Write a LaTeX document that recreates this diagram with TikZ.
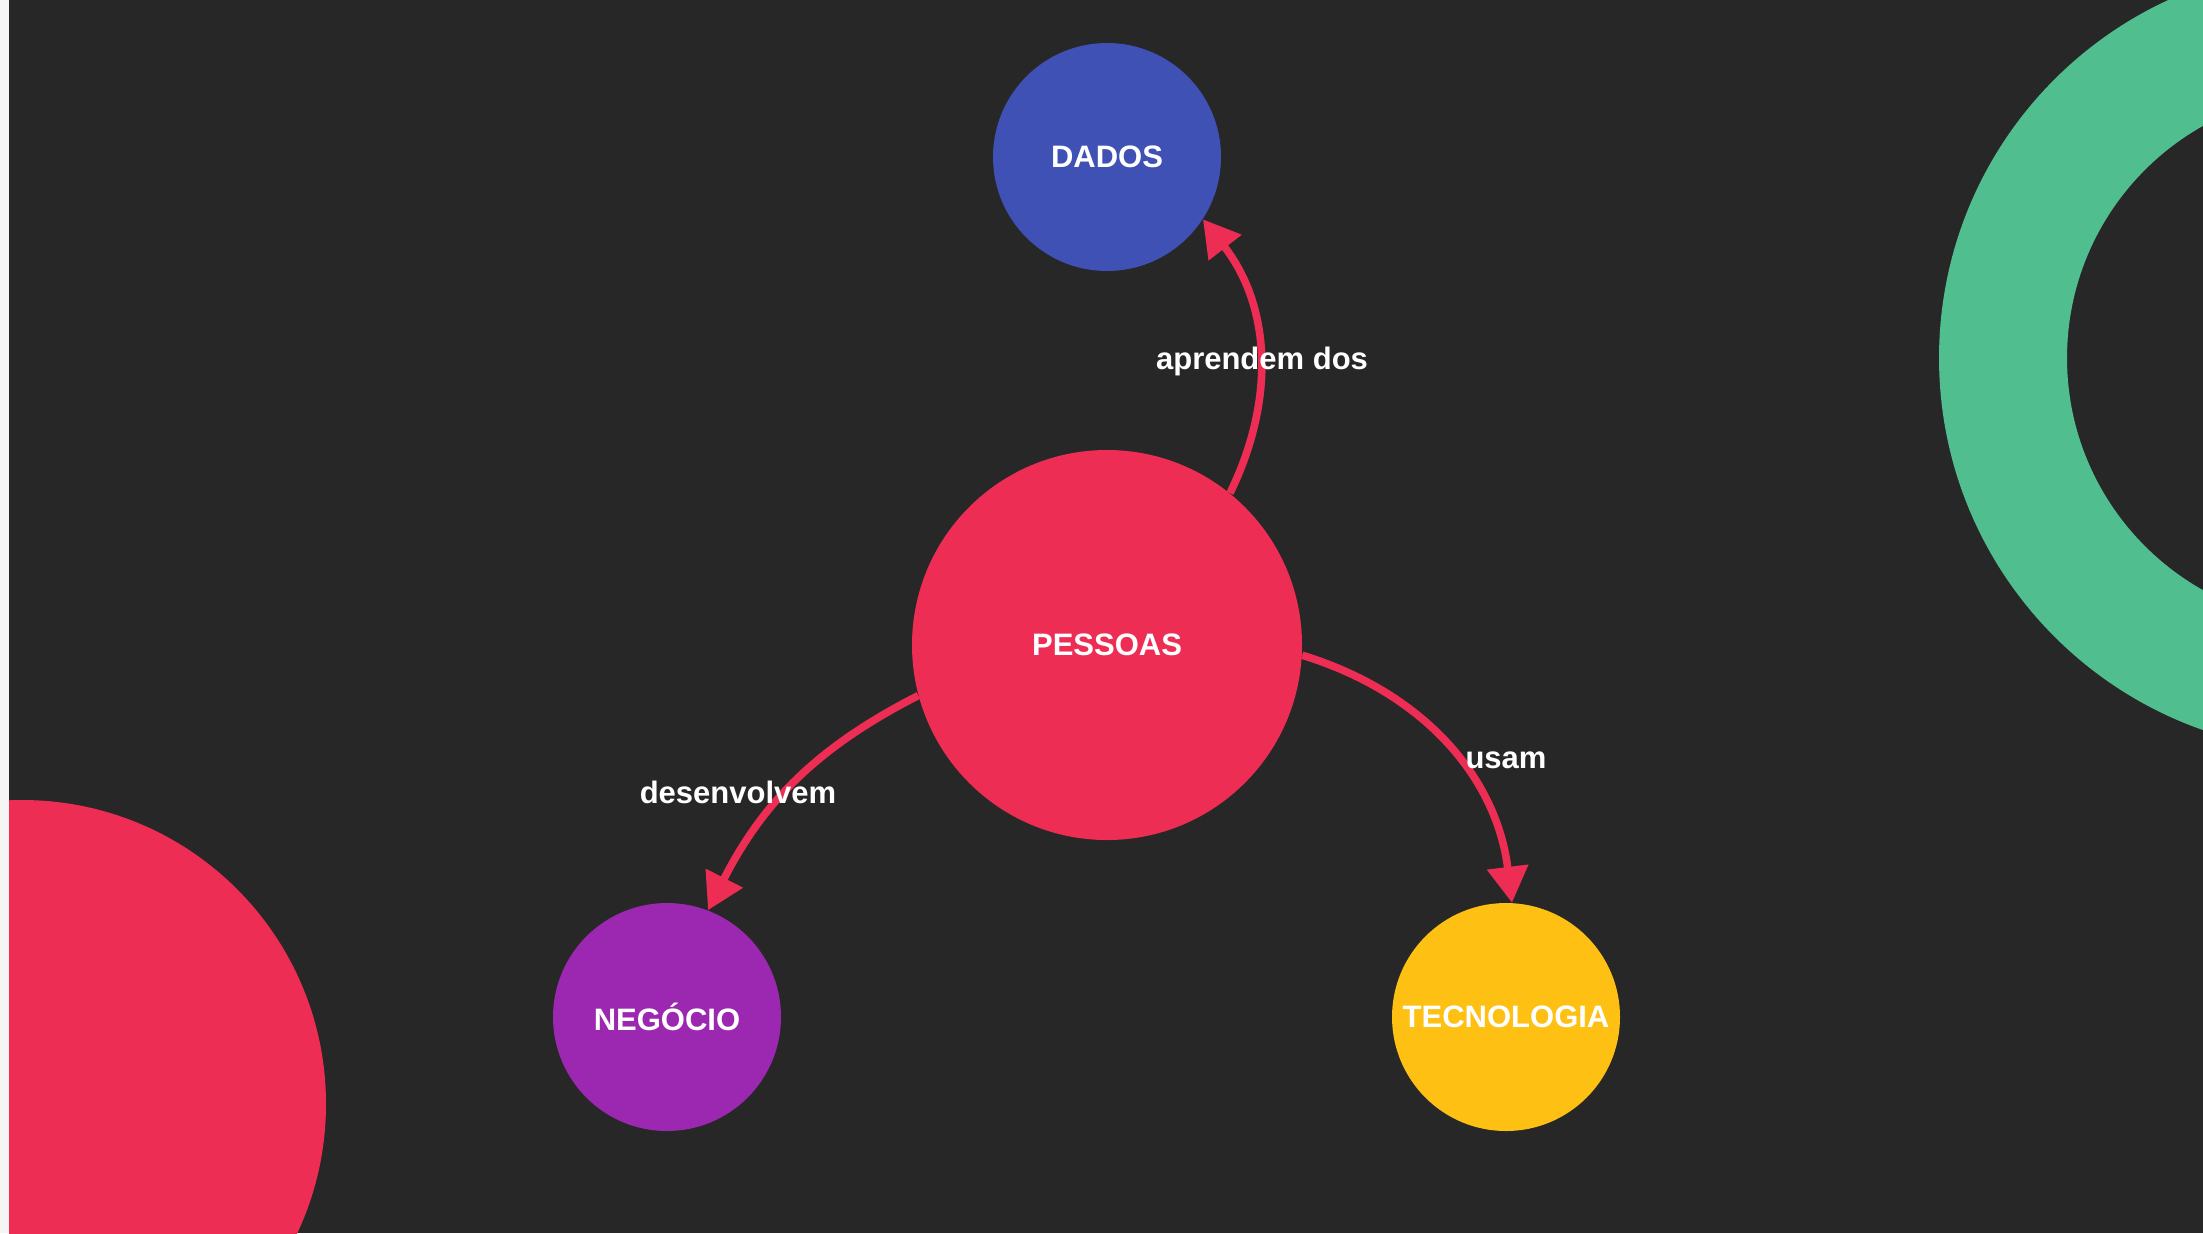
\documentclass[tikz,border=0pt]{standalone}
\usepackage{fontspec}
\setmainfont{Liberation Sans}
\usetikzlibrary{arrows.meta}

\definecolor{fundo}{HTML}{272727}
\definecolor{margem}{HTML}{F5F5F5}
\definecolor{vermelho}{HTML}{EE2D55}
\definecolor{azul}{HTML}{3F51B5}
\definecolor{roxo}{HTML}{9C27B0}
\definecolor{amarelo}{HTML}{FDC013}
\definecolor{verde}{HTML}{51BE8F}

\begin{document}
\begin{tikzpicture}[x=0.5pt,y=0.5pt,
		conceito/.style={circle,inner sep=0pt,minimum size=#1,text=white,
			font=\bfseries\fontsize{15.5}{18}\selectfont},
		seta/.style={-{Triangle[length=18pt,width=20pt]},line width=3.8pt,draw=vermelho},
		rotulo/.style={inner sep=0pt,text=white,font=\bfseries\fontsize{15.5}{18}\selectfont}]
		\useasboundingbox (0,0) rectangle (2203,-1233);
		\fill[margem] (0,0) rectangle (9,-1233);
		\fill[fundo] (9,0) rectangle (2203,-1233);
		\begin{scope}
			\clip (9,0) rectangle (2203,-1233);
			\fill[vermelho] (22,-1104) circle[radius=304];
			\fill[verde,even odd rule] (2333,-358) circle[radius=394] (2333,-358) circle[radius=266];
		\end{scope}
		\node[conceito=195pt,fill=vermelho](pessoas) at (1107,-645){PESSOAS};
		\node[conceito=114pt,fill=azul](dados) at (1107,-157){DADOS};
		\node[conceito=114pt,fill=roxo](negocio) at (667,-1017){NEGÓCIO};
		\node[conceito=114pt,fill=amarelo](tecnologia) at (1506,-1017){TECNOLOGIA};
		\draw[seta] (pessoas.51) to[out=64,in=-52] (dados.-33);
		\draw[seta] (pessoas.195) to[out=207,in=63] (negocio.69);
		\draw[seta] (pessoas.-3) to[out=-17,in=97] (tecnologia.87);
		\node[rotulo](aprendem) at (1262,-361){aprendem dos};
		\node[rotulo](desenvolvem) at (738,-792){desenvolvem};
		\node[rotulo](usam) at (1506,-760){usam};
	\end{tikzpicture}
\end{document}
